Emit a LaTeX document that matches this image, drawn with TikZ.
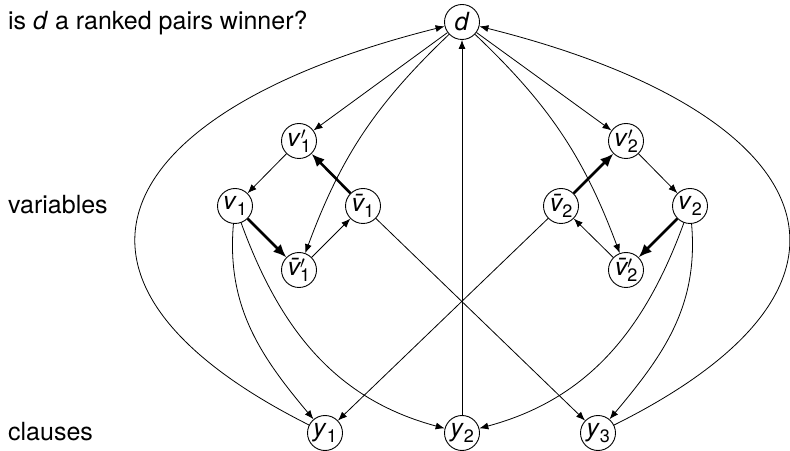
\documentclass[tikz,border=0pt]{standalone}
\usepackage{fontspec}
\setmainfont{TeX Gyre Heros}
\usetikzlibrary{arrows.meta}
\newcommand{\sbs}[1]{\raisebox{-0.22em}{\fontsize{18}{18}\selectfont #1}}
\newcommand{\prm}{\raisebox{0.3em}{\fontsize{18}{18}\selectfont$\prime$}}
\newcommand{\lv}[1]{\textit{v}\sbs{#1}}
\newcommand{\lvp}[1]{\textit{v}\rlap{\prm}\sbs{#1}}
\newcommand{\lvb}[1]{\textit{\=v}\sbs{#1}}
\newcommand{\lvbp}[1]{\textit{\=v}\rlap{\prm}\sbs{#1}}
\newcommand{\ly}[1]{\textit{y}\sbs{#1}}
\tikzset{
  vtx/.style={circle,draw,line width=0.9pt,minimum size=35pt,inner sep=0pt,font=\fontsize{25}{25}\selectfont},
  lab/.style={anchor=base west,inner sep=0pt,font=\fontsize{25}{30}\selectfont},
  edge/.style={line width=0.8pt,-{Latex[length=9pt,width=7pt]}},
  thk/.style={line width=2.6pt,-{Latex[length=13pt,width=11pt]}}
}
\begin{document}
\begin{tikzpicture}[x=1pt,y=1pt]
\useasboundingbox (0,0) rectangle (790,450);
\node[lab] (q) at (8,420) {is \textit{d} a ranked pairs winner?};
\node[lab] (vars) at (8,236) {variables};
\node[lab] (cls) at (8,10) {clauses};

\node[vtx] (d) at (462,428) {\textit{d}};
\node[vtx] (v1p) at (299,309) {\lvp{1}};
\node[vtx] (v1) at (235,244) {\lv{1}};
\node[vtx] (v1b) at (363,244) {\lvb{1}};
\node[vtx] (v1bp) at (299,180) {\lvbp{1}};
\node[vtx] (v2p) at (626,309) {\lvp{2}};
\node[vtx] (v2b) at (561,244) {\lvb{2}};
\node[vtx] (v2) at (690,244) {\lv{2}};
\node[vtx] (v2bp) at (626,180) {\lvbp{2}};
\node[vtx] (y1) at (325,17) {\ly{1}};
\node[vtx] (y2) at (462,17) {\ly{2}};
\node[vtx] (y3) at (598,17) {\ly{3}};

% from d
\draw[edge] (d) -- (v1p);
\draw[edge] (d) -- (v2p);
\draw[edge] (d) to[bend right=13] (v1bp);
\draw[edge] (d) to[bend left=13] (v2bp);
\draw[edge] (y2) -- (d);
\draw[edge] (y1) .. controls (20,170) and (110,340) .. (d);
\draw[edge] (y3) .. controls (906,170) and (814,340) .. (d);

% variable gadgets
\draw[edge] (v1p) -- (v1);
\draw[thk] (v1) -- (v1bp);
\draw[edge] (v1bp) -- (v1b);
\draw[thk] (v1b) -- (v1p);
\draw[thk] (v2b) -- (v2p);
\draw[edge] (v2p) -- (v2);
\draw[thk] (v2) -- (v2bp);
\draw[edge] (v2bp) -- (v2b);

% to clauses
\draw[edge] (v1) to[out=265,in=130] (y1);
\draw[edge] (v1) to[out=290,in=165] (y2);
\draw[edge] (v1b) -- (y3);
\draw[edge] (v2b) -- (y1);
\draw[edge] (v2) to[out=250,in=15] (y2);
\draw[edge] (v2) to[out=275,in=50] (y3);
\end{tikzpicture}
\end{document}
